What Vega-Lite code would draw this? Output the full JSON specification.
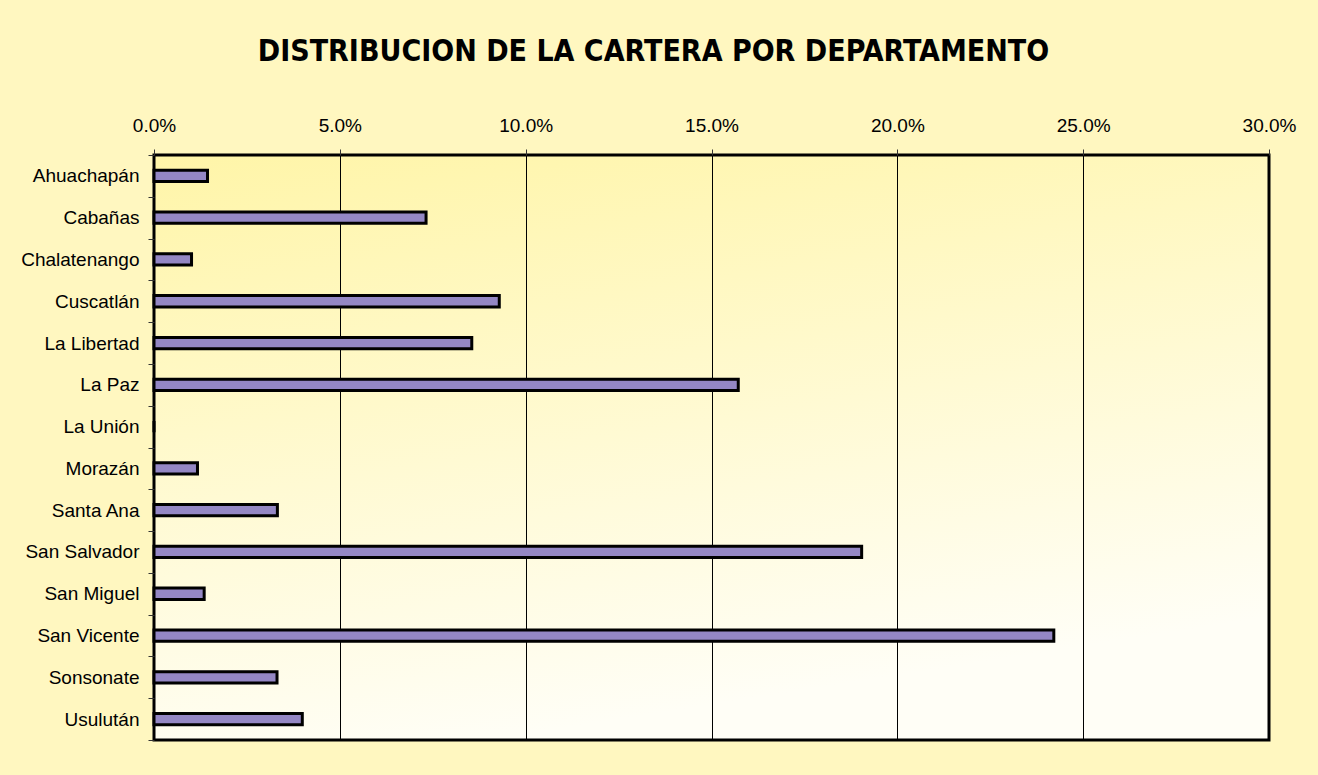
{
  "$schema": "https://vega.github.io/schema/vega-lite/v6.json",
  "width": 1115,
  "height": 585,
  "autosize": {"type": "none"},
  "padding": {"left": 154, "top": 155, "right": 49, "bottom": 35},
  "background": "#FFF7C0",
  "title": {
    "text": "DISTRIBUCION DE LA CARTERA POR DEPARTAMENTO",
    "font": "'DejaVu Sans Condensed', 'Liberation Sans'",
    "fontSize": 30,
    "fontWeight": "bold",
    "color": "black",
    "anchor": "middle",
    "dx": -58,
    "offset": 49
  },
  "data": {
    "values": [
      {"departamento": "Ahuachapán", "porcentaje": 0.0144},
      {"departamento": "Cabañas", "porcentaje": 0.0732},
      {"departamento": "Chalatenango", "porcentaje": 0.0101},
      {"departamento": "Cuscatlán", "porcentaje": 0.0929},
      {"departamento": "La Libertad", "porcentaje": 0.0855},
      {"departamento": "La Paz", "porcentaje": 0.1572},
      {"departamento": "La Unión", "porcentaje": 0},
      {"departamento": "Morazán", "porcentaje": 0.0117},
      {"departamento": "Santa Ana", "porcentaje": 0.0332},
      {"departamento": "San Salvador", "porcentaje": 0.1904},
      {"departamento": "San Miguel", "porcentaje": 0.0135},
      {"departamento": "San Vicente", "porcentaje": 0.2421},
      {"departamento": "Sonsonate", "porcentaje": 0.0331},
      {"departamento": "Usulután", "porcentaje": 0.0399}
    ]
  },
  "view": {
    "fill": {
      "gradient": "linear",
      "x1": 0, "y1": 0, "x2": 0.3, "y2": 1,
      "stops": [
        {"offset": 0, "color": "#FFF5A8"},
        {"offset": 1, "color": "#FFFEF6"}
      ]
    },
    "stroke": "black",
    "strokeWidth": 3
  },
  "mark": {"type": "bar", "fill": "#9487C4", "stroke": "black", "strokeWidth": 3, "height": {"band": 0.27}},
  "encoding": {
    "y": {
      "field": "departamento",
      "type": "nominal",
      "sort": null,
      "scale": {"paddingInner": 0, "paddingOuter": 0},
      "axis": {
        "title": null,
        "orient": "left",
        "domain": false,
        "tickBand": "extent",
        "ticks": true,
        "tickSize": 6,
        "tickColor": "#333333",
        "tickWidth": 1,
        "labelFont": "Liberation Sans",
        "labelFontSize": 19,
        "labelColor": "black",
        "labelPadding": 9
      }
    },
    "x": {
      "field": "porcentaje",
      "type": "quantitative",
      "scale": {"domain": [0, 0.3], "nice": false},
      "axis": {
        "title": null,
        "orient": "top",
        "format": ".1%",
        "values": [0, 0.05, 0.1, 0.15, 0.2, 0.25, 0.3],
        "domain": false,
        "grid": true,
        "gridColor": "black",
        "gridWidth": 1,
        "gridOpacity": 1,
        "ticks": true,
        "tickSize": 6,
        "tickColor": "#333333",
        "tickWidth": 1,
        "labelFlush": false,
        "labelFont": "Liberation Sans",
        "labelFontSize": 19,
        "labelColor": "black",
        "labelPadding": 14
      }
    }
  }
}
